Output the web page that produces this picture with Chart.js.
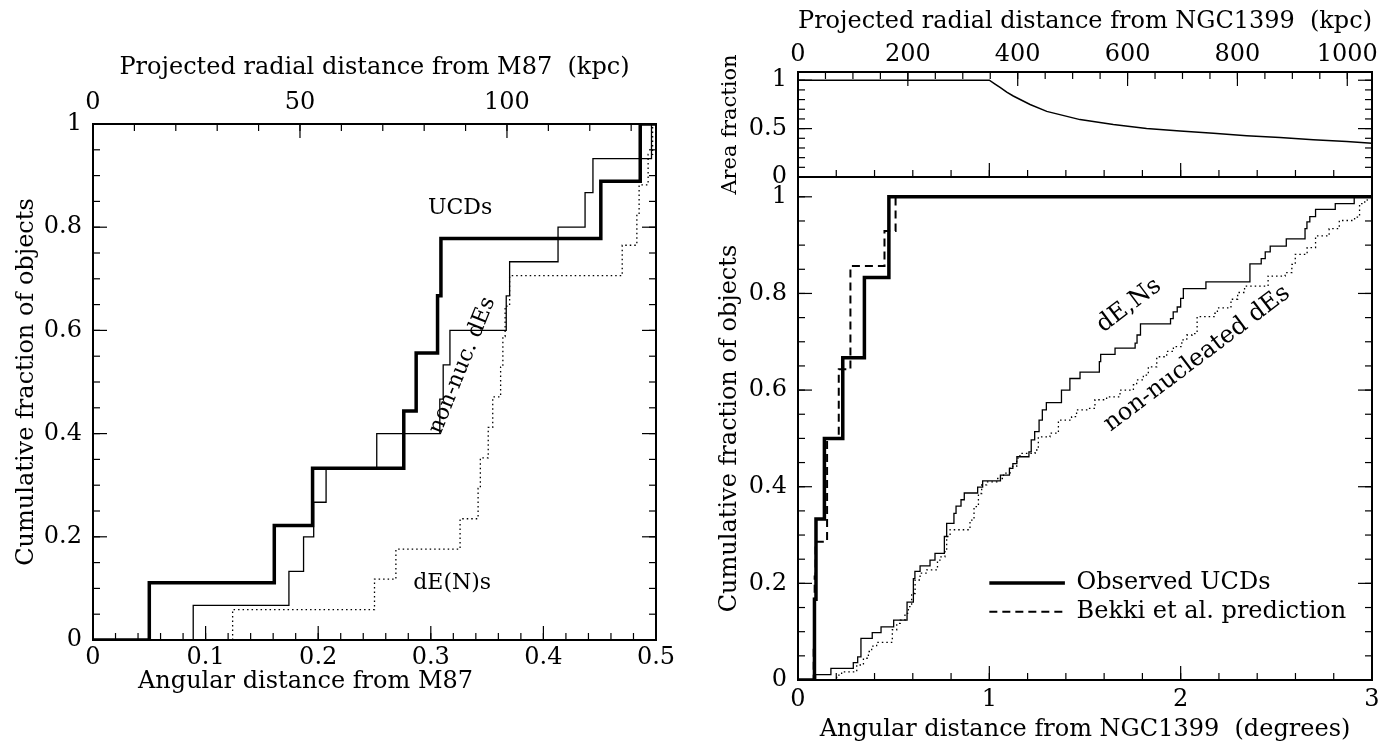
<!DOCTYPE html>
<html>
<head>
<meta charset="utf-8">
<script src="https://cdn.jsdelivr.net/npm/chart.js@4.4.1/dist/chart.umd.min.js"></script>
<style>
  body { margin: 0; background: #fff; width: 1379px; height: 744px; overflow: hidden; position: relative; }
  canvas { position: absolute; }
</style>
</head>
<body>
<canvas id="m87Chart" width="700" height="744" style="left:0;top:0"></canvas>
<canvas id="areaChart" width="679" height="200" style="left:700px;top:0"></canvas>
<canvas id="ngcChart" width="679" height="574" style="left:700px;top:170px"></canvas>
<script>
// cumulative curves: distance where the fraction steps up, and the new fraction

// M87 (left panel)
const m87UcdDist = [0, 0.050, 0.161, 0.195, 0.276, 0.287, 0.306, 0.309, 0.451, 0.486, 0.5];
const m87UcdFrac = [0, 0.111, 0.222, 0.333, 0.444, 0.556, 0.667, 0.778, 0.889, 1, 1];
const m87NonNucDist = [0, 0.089, 0.174, 0.187, 0.196, 0.207, 0.252, 0.308, 0.311, 0.317, 0.367, 0.370, 0.413, 0.437, 0.444, 0.496, 0.5];
const m87NonNucFrac = [0, 0.067, 0.133, 0.200, 0.267, 0.333, 0.400, 0.467, 0.533, 0.600, 0.667, 0.733, 0.800, 0.867, 0.933, 1, 1];
const m87NucDist = [0, 0.124, 0.250, 0.269, 0.326, 0.342, 0.344, 0.351, 0.355, 0.362, 0.364, 0.366, 0.370, 0.470, 0.483, 0.485, 0.493, 0.497, 0.5];
const m87NucFrac = [0, 0.059, 0.118, 0.176, 0.235, 0.294, 0.353, 0.412, 0.471, 0.529, 0.588, 0.647, 0.706, 0.765, 0.824, 0.882, 0.941, 1, 1];

// NGC1399 (right panel)
const ngcUcdDist = [0, 0.086, 0.094, 0.138, 0.234, 0.347, 0.475, 3];
const ngcUcdFrac = [0, 0.167, 0.333, 0.500, 0.667, 0.833, 1, 1];
const bekkiDist = [0, 0.082, 0.087, 0.092, 0.152, 0.213, 0.274, 0.452, 0.510, 3];
const bekkiFrac = [0, 0.071, 0.214, 0.286, 0.500, 0.643, 0.857, 0.929, 1, 1];
const ngcNucDist = [0, 0.092, 0.172, 0.289, 0.312, 0.329, 0.388, 0.434, 0.500, 0.570, 0.603, 0.611, 0.638, 0.690, 0.716, 0.765, 0.777, 0.815, 0.826, 0.852, 0.869, 0.939, 0.965, 1.058, 1.105, 1.123, 1.144, 1.207, 1.219, 1.237, 1.260, 1.277, 1.298, 1.377, 1.421, 1.474, 1.575, 1.582, 1.657, 1.762, 1.772, 1.790, 1.947, 1.961, 1.982, 2.000, 2.014, 2.132, 2.362, 2.421, 2.442, 2.468, 2.552, 2.650, 2.660, 2.675, 2.705, 2.808, 2.907, 3];
const ngcNucFrac = [0, 0.011, 0.024, 0.036, 0.048, 0.086, 0.098, 0.110, 0.124, 0.161, 0.210, 0.225, 0.236, 0.248, 0.262, 0.297, 0.324, 0.345, 0.360, 0.373, 0.387, 0.399, 0.412, 0.424, 0.438, 0.448, 0.462, 0.472, 0.497, 0.514, 0.538, 0.559, 0.574, 0.600, 0.624, 0.637, 0.659, 0.674, 0.687, 0.697, 0.714, 0.737, 0.748, 0.762, 0.772, 0.790, 0.810, 0.824, 0.861, 0.872, 0.886, 0.898, 0.913, 0.934, 0.948, 0.959, 0.974, 0.986, 1, 1];
const ngcNonNucDist = [0, 0.202, 0.228, 0.307, 0.342, 0.368, 0.385, 0.411, 0.493, 0.516, 0.535, 0.559, 0.577, 0.594, 0.612, 0.638, 0.673, 0.729, 0.742, 0.768, 0.777, 0.795, 0.899, 0.920, 0.943, 0.960, 0.986, 1.039, 1.074, 1.108, 1.143, 1.160, 1.239, 1.256, 1.317, 1.361, 1.430, 1.456, 1.509, 1.552, 1.613, 1.683, 1.753, 1.770, 1.805, 1.831, 1.875, 1.927, 1.962, 2.006, 2.032, 2.060, 2.086, 2.175, 2.192, 2.263, 2.298, 2.334, 2.457, 2.546, 2.581, 2.599, 2.661, 2.705, 2.776, 2.829, 2.909, 2.935, 2.962, 2.975, 3];
const ngcNonNucFrac = [0, 0.010, 0.017, 0.031, 0.045, 0.059, 0.070, 0.078, 0.104, 0.117, 0.124, 0.138, 0.152, 0.179, 0.207, 0.221, 0.228, 0.248, 0.255, 0.269, 0.297, 0.311, 0.331, 0.359, 0.386, 0.404, 0.410, 0.417, 0.428, 0.442, 0.459, 0.469, 0.476, 0.503, 0.511, 0.538, 0.545, 0.559, 0.562, 0.580, 0.586, 0.600, 0.611, 0.621, 0.631, 0.648, 0.669, 0.680, 0.690, 0.704, 0.714, 0.717, 0.752, 0.759, 0.770, 0.788, 0.802, 0.815, 0.836, 0.843, 0.860, 0.881, 0.895, 0.919, 0.934, 0.951, 0.958, 0.986, 0.993, 1, 1];

// area fraction (top right panel)
const areaDist = [0, 1.0, 1.03, 1.056, 1.091, 1.125, 1.213, 1.3, 1.474, 1.648, 1.822, 1.997, 2.171, 2.345, 2.519, 2.693, 2.868, 3.0];
const areaFrac = [1, 1, 0.959, 0.925, 0.878, 0.837, 0.749, 0.678, 0.593, 0.542, 0.502, 0.475, 0.451, 0.427, 0.407, 0.386, 0.366, 0.349];

// tick labels
const m87DistTicks = [0, 0.1, 0.2, 0.3, 0.4, 0.5];
const m87KpcTicks = [0, 50, 100];
const fracTicks = [0, 0.2, 0.4, 0.6, 0.8, 1];
const ngcDistTicks = [0, 1, 2, 3];
const ngcKpcTicks = [0, 200, 400, 600, 800, 1000];
const areaTicks = [0, 0.5, 1];

const font = { family: 'DejaVu Serif', size: 24, lineHeight: 1 };

function marks(from, to, step) {
  const out = [];
  for (let v = from; v <= to + 1e-9; v += step) out.push(+v.toFixed(6));
  return out;
}

function stepLine(xs, ys, width, dash) {
  return {
    data: xs.map((x, i) => ({ x: x, y: ys[i] })),
    stepped: 'before',
    borderColor: '#000',
    borderWidth: width,
    borderDash: dash || [],
    pointRadius: 0,
    fill: false
  };
}

// fixed axis box size so the plot frames land where they should
function fixBox(size, horizontal) {
  return scale => {
    if (horizontal) scale.height = size; else scale.width = size;
    scale.paddingLeft = scale.paddingRight = scale.paddingTop = scale.paddingBottom = 0;
  };
}

function axis(opts) {
  const titleFont = Object.assign({}, font, { size: opts.titleSize || 24 });
  return {
    type: 'linear',
    position: opts.position,
    display: opts.display !== false,
    min: opts.min,
    max: opts.max,
    grid: { display: false, drawTicks: false, tickLength: 0 },
    border: { display: false },
    afterBuildTicks: s => { if (opts.ticks) s.ticks = opts.ticks.map(v => ({ value: v })); },
    afterFit: fixBox(opts.size || 0, opts.position === 'top' || opts.position === 'bottom'),
    ticks: { font: font, color: '#000', padding: opts.pad || 0, maxRotation: 0, autoSkip: false, callback: v => String(v) },
    title: { display: !!opts.title, text: opts.title, font: titleFont, color: '#000', padding: opts.titlePad || 0 }
  };
}

// frame, inward tick marks, text labels, legend
function decor(cfg) {
  return {
    id: 'decor',
    afterDraw(chart) {
      const ctx = chart.ctx, a = chart.chartArea;
      ctx.save();
      ctx.strokeStyle = '#000';
      ctx.lineWidth = 1.2;
      cfg.sides.forEach(s => {
        const sc = chart.scales[s.scale];
        const one = (v, len) => {
          const p = sc.getPixelForValue(v);
          ctx.beginPath();
          if (s.side === 'bottom') { ctx.moveTo(p, a.bottom); ctx.lineTo(p, a.bottom - len); }
          if (s.side === 'top') { ctx.moveTo(p, a.top); ctx.lineTo(p, a.top + len); }
          if (s.side === 'left') { ctx.moveTo(a.left, p); ctx.lineTo(a.left + len, p); }
          if (s.side === 'right') { ctx.moveTo(a.right, p); ctx.lineTo(a.right - len, p); }
          ctx.stroke();
        };
        s.minor.forEach(v => one(v, 7));
        s.major.forEach(v => one(v, 14));
      });
      ctx.lineWidth = 2;
      ctx.strokeRect(a.left, a.top, a.right - a.left, a.bottom - a.top);

      const xs = chart.scales.x, ys = chart.scales.y;
      ctx.fillStyle = '#000';
      (cfg.labels || []).forEach(l => {
        ctx.save();
        ctx.font = (l.size || 24) + 'px "DejaVu Serif"';
        ctx.textAlign = l.align || 'center';
        ctx.textBaseline = 'middle';
        ctx.translate(xs.getPixelForValue(l.x), ys.getPixelForValue(l.y));
        ctx.rotate((l.rot || 0) * Math.PI / 180);
        ctx.fillText(l.text, 0, 0);
        ctx.restore();
      });

      // axis title placed below the tick labels, offset from the frame corner
      (cfg.titles || []).forEach(t => {
        ctx.font = '24px "DejaVu Serif"';
        ctx.textAlign = 'left';
        ctx.textBaseline = 'middle';
        ctx.fillText(t.text, a.left + t.dx, a.bottom + t.dy);
      });

      (cfg.legend || []).forEach(item => {
        const ds = chart.data.datasets[item.dataset];
        const py = ys.getPixelForValue(item.y);
        ctx.save();
        ctx.lineWidth = ds.borderWidth;
        ctx.setLineDash(ds.borderDash || []);
        ctx.beginPath();
        ctx.moveTo(xs.getPixelForValue(item.x0), py);
        ctx.lineTo(xs.getPixelForValue(item.x1), py);
        ctx.stroke();
        ctx.restore();
        ctx.font = '24px "DejaVu Serif"';
        ctx.textAlign = 'left';
        ctx.textBaseline = 'middle';
        ctx.fillText(item.text, xs.getPixelForValue(item.tx), py);
      });
      ctx.restore();
    }
  };
}

const common = {
  responsive: false,
  animation: false,
  devicePixelRatio: 1,
  plugins: { legend: { display: false }, tooltip: { enabled: false } }
};

// Chart: M87
new Chart(document.getElementById('m87Chart'), {
  type: 'line',
  data: {
    datasets: [
      stepLine(m87NucDist, m87NucFrac, 1.3, [1.5, 3]),
      stepLine(m87NonNucDist, m87NonNucFrac, 1.3),
      stepLine(m87UcdDist, m87UcdFrac, 3.5)
    ]
  },
  options: Object.assign({}, common, {
    layout: { padding: { left: 14, right: 44, top: 0, bottom: 0 } },
    scales: {
      x: axis({ position: 'bottom', min: 0, max: 0.5, ticks: m87DistTicks, size: 104, pad: 6 }),
      x2: axis({ position: 'top', min: 0, max: 136, ticks: m87KpcTicks, size: 124, pad: 9,
                 title: 'Projected radial distance from M87  (kpc)', titlePad: { top: 56, bottom: 0 } }),
      y: axis({ position: 'left', min: 0, max: 1, ticks: fracTicks, size: 79, pad: 11,
                title: 'Cumulative fraction of objects', titlePad: { top: 1, bottom: 0 } })
    }
  }),
  plugins: [decor({
    sides: [
      { side: 'bottom', scale: 'x', minor: marks(0, 0.5, 0.02), major: m87DistTicks },
      { side: 'top', scale: 'x2', minor: marks(0, 136, 10), major: m87KpcTicks },
      { side: 'left', scale: 'y', minor: marks(0, 1, 0.05), major: fracTicks },
      { side: 'right', scale: 'y', minor: marks(0, 1, 0.05), major: fracTicks }
    ],
    labels: [
      { text: 'UCDs', x: 0.326, y: 0.837, size: 22 },
      { text: 'non-nuc. dEs', x: 0.328, y: 0.532, rot: -68, size: 22 },
      { text: 'dE(N)s', x: 0.319, y: 0.11, size: 22 }
    ],
    titles: [
      { text: 'Angular distance from M87', dx: 45, dy: 42 }
    ]
  })]
});

// Chart: area fraction
new Chart(document.getElementById('areaChart'), {
  type: 'line',
  data: {
    datasets: [{
      data: areaDist.map((x, i) => ({ x: x, y: areaFrac[i] })),
      borderColor: '#000', borderWidth: 1.5, pointRadius: 0, fill: false, tension: 0
    }]
  },
  options: Object.assign({}, common, {
    layout: { padding: { left: 16, right: 7, top: 0, bottom: 23 } },
    scales: {
      x: axis({ position: 'bottom', display: false, min: 0, max: 3 }),
      x2: axis({ position: 'top', min: 0, max: 1045, ticks: ngcKpcTicks, size: 72, pad: 5,
                 title: 'Projected radial distance from NGC1399  (kpc)', titlePad: { top: 10, bottom: 0 } }),
      y: axis({ position: 'left', min: 0, max: 1.085, ticks: areaTicks, size: 82, pad: 11,
                title: 'Area fraction', titleSize: 21, titlePad: { top: 4, bottom: 0 } })
    }
  }),
  plugins: [decor({
    sides: [
      { side: 'bottom', scale: 'x', minor: marks(0, 3, 0.2), major: ngcDistTicks },
      { side: 'top', scale: 'x2', minor: marks(0, 1045, 50), major: ngcKpcTicks },
      { side: 'left', scale: 'y', minor: marks(0, 1.08, 0.1), major: [0.5, 1] },
      { side: 'right', scale: 'y', minor: marks(0, 1.08, 0.1), major: [0.5, 1] }
    ]
  })]
});

// Chart: NGC1399
new Chart(document.getElementById('ngcChart'), {
  type: 'line',
  data: {
    datasets: [
      stepLine(ngcNonNucDist, ngcNonNucFrac, 1.3, [1.5, 3]),
      stepLine(ngcNucDist, ngcNucFrac, 1.3),
      stepLine(bekkiDist, bekkiFrac, 2, [8, 5]),
      stepLine(ngcUcdDist, ngcUcdFrac, 3.5)
    ]
  },
  options: Object.assign({}, common, {
    layout: { padding: { left: 16, right: 7, top: 7, bottom: 0 } },
    scales: {
      x: axis({ position: 'bottom', min: 0, max: 3, ticks: ngcDistTicks, size: 64, pad: 8,
                title: 'Angular distance from NGC1399  (degrees)', titlePad: { top: 0, bottom: 2 } }),
      y: axis({ position: 'left', min: 0, max: 1.041, ticks: fracTicks, size: 82, pad: 11,
                title: 'Cumulative fraction of objects', titlePad: { top: 2, bottom: 0 } })
    }
  }),
  plugins: [decor({
    sides: [
      { side: 'bottom', scale: 'x', minor: marks(0, 3, 0.2), major: [1, 2] },
      { side: 'left', scale: 'y', minor: marks(0, 1.04, 0.05), major: fracTicks },
      { side: 'right', scale: 'y', minor: marks(0, 1.04, 0.05), major: fracTicks }
    ],
    labels: [
      { text: 'dE,Ns', x: 1.73, y: 0.775, rot: -37 },
      { text: 'non-nucleated dEs', x: 2.086, y: 0.665, rot: -37 }
    ],
    legend: [
      { dataset: 3, x0: 1.0, x1: 1.395, tx: 1.456, y: 0.201, text: 'Observed UCDs' },
      { dataset: 2, x0: 1.0, x1: 1.395, tx: 1.456, y: 0.141, text: 'Bekki et al. prediction' }
    ]
  })]
});
</script>
</body>
</html>
